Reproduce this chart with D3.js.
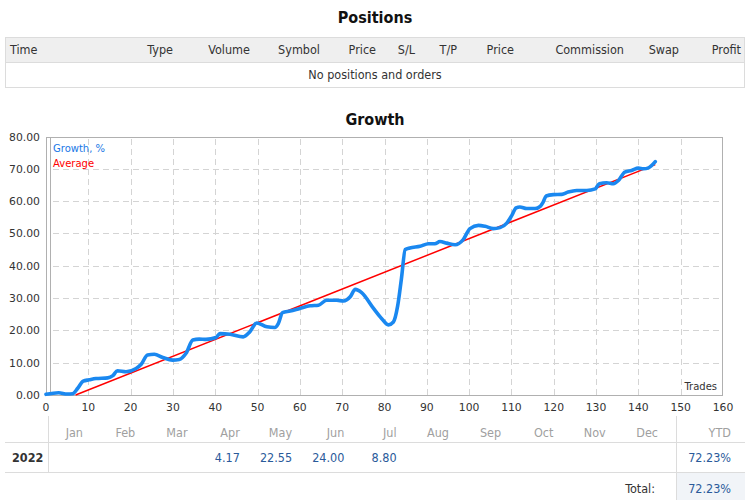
<!DOCTYPE html>
<html>
<head>
<meta charset="utf-8">
<script src="https://cdn.jsdelivr.net/npm/d3@7"></script>
<style>
  html, body { margin: 0; padding: 0; background: #fff; }
  svg { display: block; }
  .cond { font-family: "Liberation Sans Narrow", "DejaVu Sans Condensed", sans-serif; }
  .tick-lbl { font-family: "DejaVu Sans", Verdana, sans-serif; font-size: 10.8px; fill: #333; }
</style>
</head>
<body>
<svg id="chart" width="750" height="500"></svg>
<script>
// ---------- DATA ----------
const positionColumns = ["Time", "Type", "Volume", "Symbol", "Price", "S/L", "T/P", "Price", "Commission", "Swap", "Profit"];
const positionsEmptyText = "No positions and orders";

const trades = [0, 3, 5, 6.3, 7.5, 8.8, 10.2, 11.8, 14.6, 15.8, 16.9, 18.9, 21.3, 22.5, 24, 25.6, 27.6, 29.9, 31.5, 33.1,
  34.7, 36.2, 37.8, 40.2, 41.1, 43.5, 46.6, 48.2, 49.8, 52.2, 54.1, 54.9, 55.9, 57.7, 60, 62.4, 64.4, 66.3, 68.7, 70.3,
  71.9, 73.1, 74.6, 77.4, 79.3, 80.9, 82.1, 83.1, 84.0, 84.9, 86.0, 88.4, 90.4, 91.9, 93.1, 94.7, 96.7, 98.6, 100.2,
  102.2, 103.8, 105.7, 107.3, 108.9, 110.1, 111.1, 112, 113.6, 115.6, 116.8, 117.5, 118.2, 119.9, 121.9, 123.4, 125.4,
  127.8, 129.8, 130.8, 132.5, 134.1, 135.3, 136.8, 138.4, 140, 141.2, 142.4, 144];
const growth = [0.2, 0.7, 0.3, 0.4, 2.1, 4.3, 4.7, 5.1, 5.3, 6.0, 7.5, 7.2, 8.2, 9.5, 12.4, 12.6, 11.6, 10.8, 11.0, 12.9,
  17.0, 17.3, 17.2, 17.8, 19.0, 18.8, 18.0, 19.6, 22.3, 21.1, 20.9, 22.1, 25.5, 26.0, 26.8, 27.6, 27.8, 29.3, 29.3, 29.1,
  30.4, 32.7, 31.7, 26.8, 23.7, 21.7, 22.6, 27.5, 36.0, 45.0, 45.5, 46.0, 46.8, 46.8, 47.5, 47.0, 46.5, 48.1, 51.5,
  52.5, 52.2, 51.5, 51.8, 53.2, 55.6, 57.9, 58.2, 57.7, 57.7, 58.4, 59.7, 61.6, 62.0, 62.1, 62.8, 63.3,
  63.3, 63.8, 65.4, 65.7, 65.4, 66.4, 69.0, 69.5, 70.2, 70.0, 70.3, 72.2];
const averageTrades = [7, 144];
const averageGrowth = [0, 71.3];

const xTicks = [0, 10, 20, 30, 40, 50, 60, 70, 80, 90, 100, 110, 120, 130, 140, 150, 160];
const yTicks = [0, 10, 20, 30, 40, 50, 60, 70, 80];

const months = ["Jan", "Feb", "Mar", "Apr", "May", "Jun", "Jul", "Aug", "Sep", "Oct", "Nov", "Dec"];
const year = "2022";
const monthValues = [null, null, null, 4.17, 22.55, 24.00, 8.80, null, null, null, null, null];
const ytd = "72.23%";
const totalLabel = "Total:";
const totalValue = "72.23%";

// ---------- DRAW ----------
const svg = d3.select("#chart");
const FS = "12.5px";

// Positions title
svg.append("text").attr("x", 375).attr("y", 23).attr("text-anchor", "middle")
  .attr("class", "cond").style("font-size", "16px").style("font-weight", "bold").style("fill", "#111")
  .text("Positions");

// Positions table
svg.append("rect").attr("x", 5.5).attr("y", 37.5).attr("width", 739).attr("height", 25)
  .attr("fill", "#efefef").attr("stroke", "#dcdcdc");
svg.append("rect").attr("x", 5.5).attr("y", 62.5).attr("width", 739).attr("height", 25)
  .attr("fill", "#fff").attr("stroke", "#dcdcdc");
const colRight = [null, 173, 250, 320, 376, 415, 457, 514, 624, 679, 741];
positionColumns.forEach((c, i) => {
  svg.append("text").attr("class", "cond")
    .attr("x", i === 0 ? 10 : colRight[i]).attr("y", 54)
    .attr("text-anchor", i === 0 ? "start" : "end")
    .style("font-size", FS).style("fill", "#333").text(c);
});
svg.append("text").attr("class", "cond").attr("x", 375).attr("y", 79).attr("text-anchor", "middle")
  .style("font-size", FS).style("fill", "#333").text(positionsEmptyText);

// Growth title
svg.append("text").attr("x", 375).attr("y", 125).attr("text-anchor", "middle")
  .attr("class", "cond").style("font-size", "16px").style("font-weight", "bold").style("fill", "#111")
  .text("Growth");

// Scales
const x = d3.scaleLinear().domain([0, 160]).range([46, 723]);
const y = d3.scaleLinear().domain([0, 80]).range([395, 136.5]);

// Grid
const g = svg.append("g");
g.selectAll(".vg").data(xTicks.filter(t => t > 0 && t < 160)).enter().append("line")
  .attr("x1", d => Math.round(x(d)) + 0.5).attr("x2", d => Math.round(x(d)) + 0.5)
  .attr("y1", 139).attr("y2", 395)
  .attr("stroke", "#d4d4d4").attr("stroke-dasharray", "6,4");
g.selectAll(".hg").data(yTicks.filter(t => t > 0 && t < 80)).enter().append("line")
  .attr("x1", 53).attr("x2", 723)
  .attr("y1", d => Math.round(y(d)) + 0.5).attr("y2", d => Math.round(y(d)) + 0.5)
  .attr("stroke", "#d4d4d4").attr("stroke-dasharray", "6,4");

// Frame
svg.append("rect").attr("x", 46.5).attr("y", 137.5).attr("width", 676).attr("height", 258)
  .attr("fill", "none").attr("stroke", "#b0b0b0");
svg.append("line").attr("x1", 50.5).attr("x2", 50.5).attr("y1", 137).attr("y2", 395)
  .attr("stroke", "#b0b0b0");

// Tick labels
svg.selectAll(".yl").data(yTicks).enter().append("text").attr("class", "tick-lbl")
  .attr("x", 40).attr("y", d => y(d) + 4).attr("text-anchor", "end")
  .text(d => d3.format(".2f")(d));
svg.selectAll(".xl").data(xTicks).enter().append("text").attr("class", "tick-lbl")
  .attr("x", d => x(d)).attr("y", 411).attr("text-anchor", "middle")
  .text(d => d);

// Average line
svg.append("line")
  .attr("x1", x(averageTrades[0])).attr("y1", y(averageGrowth[0]))
  .attr("x2", x(averageTrades[1])).attr("y2", y(averageGrowth[1]))
  .attr("stroke", "#ff0000").attr("stroke-width", 1.5);

// Growth line
const pts = trades.map((t, i) => [t, growth[i]]);
svg.append("path").datum(pts)
  .attr("fill", "none").attr("stroke", "#1a88f0").attr("stroke-width", 3.6)
  .attr("stroke-linejoin", "round").attr("stroke-linecap", "round")
  .attr("d", d3.line().x(d => x(d[0])).y(d => y(d[1])).curve(d3.curveMonotoneX));

// Legend
svg.append("text").attr("class", "tick-lbl").attr("x", 53).attr("y", 152)
  .style("fill", "#1a78e6").style("font-size", "10px").text("Growth, %");
svg.append("text").attr("class", "tick-lbl").attr("x", 53).attr("y", 167)
  .style("fill", "#ff0000").style("font-size", "10px").text("Average");
svg.append("text").attr("class", "tick-lbl").attr("x", 717).attr("y", 390).attr("text-anchor", "end")
  .style("font-size", "10px").text("Trades");

// Bottom table
const tb = svg.append("g");
tb.append("rect").attr("x", 676).attr("y", 473).attr("width", 69).attr("height", 27).attr("fill", "#f1f4f8");
tb.append("line").attr("x1", 5).attr("x2", 745).attr("y1", 442.5).attr("y2", 442.5).attr("stroke", "#dcdcdc");
tb.append("line").attr("x1", 5).attr("x2", 745).attr("y1", 472.5).attr("y2", 472.5).attr("stroke", "#dcdcdc");
tb.append("line").attr("x1", 48.5).attr("x2", 48.5).attr("y1", 416).attr("y2", 472).attr("stroke", "#dcdcdc");
tb.append("line").attr("x1", 676.5).attr("x2", 676.5).attr("y1", 416).attr("y2", 500).attr("stroke", "#dcdcdc");

const monthRight = d3.scaleLinear().domain([0, 11]).range([83, 658]);
months.forEach((m, i) => {
  tb.append("text").attr("class", "cond").attr("x", monthRight(i)).attr("y", 437).attr("text-anchor", "end")
    .style("font-size", FS).style("fill", "#a0a0a0").text(m);
  if (monthValues[i] !== null) {
    tb.append("text").attr("class", "cond").attr("x", monthRight(i)).attr("y", 462).attr("text-anchor", "end")
      .style("font-size", FS).style("fill", "#2a5a9a").text(d3.format(".2f")(monthValues[i]));
  }
});
tb.append("text").attr("class", "cond").attr("x", 731).attr("y", 437).attr("text-anchor", "end")
  .style("font-size", FS).style("fill", "#a0a0a0").text("YTD");
tb.append("text").attr("class", "cond").attr("x", 12).attr("y", 462)
  .style("font-size", FS).style("font-weight", "bold").style("fill", "#333").text(year);
tb.append("text").attr("class", "cond").attr("x", 731).attr("y", 462).attr("text-anchor", "end")
  .style("font-size", FS).style("fill", "#2a5a9a").text(ytd);
tb.append("text").attr("class", "cond").attr("x", 655).attr("y", 493).attr("text-anchor", "end")
  .style("font-size", FS).style("fill", "#333").text(totalLabel);
tb.append("text").attr("class", "cond").attr("x", 731).attr("y", 493).attr("text-anchor", "end")
  .style("font-size", FS).style("fill", "#2a5a9a").text(totalValue);
</script>
</body>
</html>
